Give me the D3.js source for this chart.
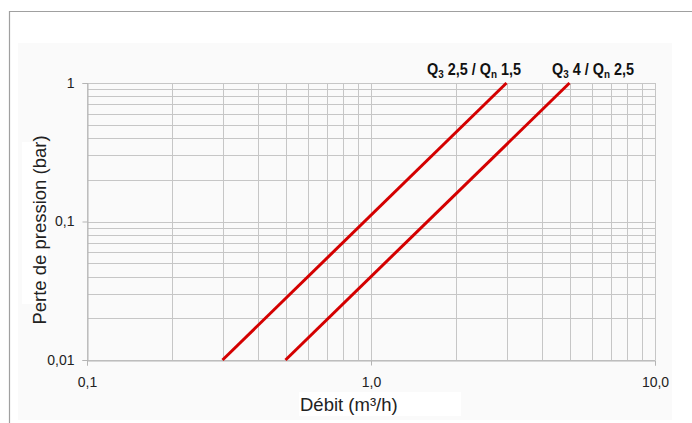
<!DOCTYPE html>
<html>
<head>
<meta charset="utf-8">
<script src="https://cdn.jsdelivr.net/npm/d3@7"></script>
<style>
  body { margin: 0; background: #fff; }
  svg { display: block; font-family: "Liberation Sans", Arial, sans-serif; }
</style>
</head>
<body>
<svg id="chart" width="692" height="423"></svg>
<script>
// values
var flowDomain = [0.1, 10],
    lossDomain = [0.01, 1],
    flowTicks = [0.1, 1, 10],
    flowTickLabels = ['0,1', '1,0', '10,0'],
    lossTicks = [0.01, 0.1, 1],
    lossTickLabels = ['0,01', '0,1', '1'];

// each series: [flow, loss] endpoints of a straight line on log-log
var seriesNames = [['Q', '3', ' 2,5 / Q', 'n', ' 1,5'], ['Q', '3', ' 4 / Q', 'n', ' 2,5']],
    seriesFlow = [[0.3, 3], [0.5, 5]],
    seriesLoss = [[0.01, 1], [0.01, 1]];

var svg = d3.select('#chart'),
    mLeft = 87, mRight = 655, mTop = 83, mBottom = 360;

var x = d3.scaleLog().domain(flowDomain).range([mLeft, mRight]),
    y = d3.scaleLog().domain(lossDomain).range([mBottom, mTop]);

// outer frame and light panel
svg.append('path')
    .attr('d', 'M9.5,423V11.5H692')
    .attr('fill', 'none')
    .attr('stroke', '#a0a0a0')
    .attr('stroke-width', 1.2);
svg.append('rect')
    .attr('x', 18).attr('y', 43)
    .attr('width', 654).attr('height', 377)
    .attr('fill', '#fafafa');

// minor grid: 1..9 per decade
function minors(domain) {
    var out = [];
    for (var e = Math.log10(domain[0]); e < Math.log10(domain[1]); e++)
        for (var k = 1; k < 10; k++) out.push(k * Math.pow(10, e));
    out.push(domain[1]);
    return out;
}

var grid = svg.append('g').attr('stroke', '#c6c6c6').attr('stroke-width', 1);
grid.selectAll('line.v')
    .data(minors(flowDomain))
    .enter().append('line')
    .attr('class', 'v')
    .attr('x1', d => Math.round(x(d)) + 0.5).attr('x2', d => Math.round(x(d)) + 0.5)
    .attr('y1', mTop).attr('y2', mBottom);
grid.selectAll('line.h')
    .data(minors(lossDomain))
    .enter().append('line')
    .attr('class', 'h')
    .attr('y1', d => Math.round(y(d)) + 0.5).attr('y2', d => Math.round(y(d)) + 0.5)
    .attr('x1', mLeft).attr('x2', mRight);

// axes
svg.append('g')
    .attr('transform', 'translate(0,' + (mBottom + 0.5) + ')')
    .call(d3.axisBottom(x).tickValues(flowTicks).tickFormat((d, i) => flowTickLabels[i]).tickSize(5).tickPadding(12))
    .call(g => {
        g.select('.domain').attr('stroke', '#b4b4b4')
        g.selectAll('line').attr('stroke', '#b4b4b4')
        g.selectAll('text').attr('font-size', 14).attr('fill', '#222')
            .attr('font-family', '"Liberation Sans", Arial, sans-serif')
    });
svg.append('g')
    .attr('transform', 'translate(' + (mLeft + 0.5) + ',0)')
    .call(d3.axisLeft(y).tickValues(lossTicks).tickFormat((d, i) => lossTickLabels[i]).tickSize(5).tickPadding(8))
    .call(g => {
        g.select('.domain').attr('stroke', '#b4b4b4')
        g.selectAll('line').attr('stroke', '#b4b4b4')
        g.selectAll('text').attr('font-size', 14).attr('fill', '#222')
            .attr('font-family', '"Liberation Sans", Arial, sans-serif')
    });

// series lines
var line = d3.line().x(d => x(d[0])).y(d => y(d[1]));
svg.selectAll('path.series')
    .data(seriesFlow.map((f, i) => f.map((v, j) => [v, seriesLoss[i][j]])))
    .enter().append('path')
    .attr('class', 'series')
    .attr('d', line)
    .attr('fill', 'none')
    .attr('stroke', '#d40000')
    .attr('stroke-width', 3);

// series labels with subscripts, squeezed to look condensed
var labelX = [427, 552];
seriesNames.forEach(function(parts, i) {
    var t = svg.append('text')
        .attr('transform', 'translate(' + labelX[i] + ',75) scale(0.9,1)')
        .attr('font-weight', 'bold')
        .attr('font-size', 16)
        .attr('fill', '#111');
    parts.forEach(function(p, j) {
        var sub = j % 2 === 1;
        t.append('tspan')
            .attr('font-size', sub ? 11 : 16)
            .attr('dy', j === 0 ? 0 : (sub ? 3 : -3))
            .text(p);
    });
});

// axis titles on white boxes
svg.append('rect').attr('x', 299).attr('y', 392).attr('width', 162).attr('height', 24).attr('fill', '#fff');
svg.append('text')
    .attr('x', 300).attr('y', 411)
    .attr('font-size', 18.5)
    .attr('fill', '#222')
    .text('Débit (m³/h)');

svg.append('rect').attr('x', 22).attr('y', 142).attr('width', 26).attr('height', 162).attr('fill', '#fff');
svg.append('text')
    .attr('transform', 'translate(46,230) rotate(-90)')
    .attr('text-anchor', 'middle')
    .attr('font-size', 18.5)
    .attr('fill', '#222')
    .text('Perte de pression (bar)');
</script>
</body>
</html>
